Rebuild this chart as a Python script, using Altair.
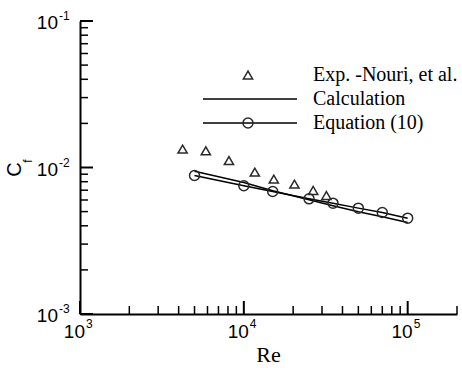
import altair as alt
import pandas as pd

# Experimental data (Nouri et al.)
exp_re = [4230, 5860, 8110, 11670, 15240, 20370, 26500, 31900]
exp_cf = [0.01335, 0.0130, 0.01116, 0.00930, 0.00833, 0.00770, 0.00697, 0.00644]

# Calculation
calc_re = [5000, 10000, 15000, 25000, 35000, 50000, 70000, 100000]
calc_cf = [0.00942, 0.00790, 0.00693, 0.00602, 0.00548, 0.00499, 0.00461, 0.00421]

# Equation (10)
eq_re = [5000, 10000, 15000, 25000, 35000, 50000, 70000, 100000]
eq_cf = [0.00882, 0.00750, 0.00686, 0.00611, 0.00571, 0.00528, 0.00493, 0.00451]

# Ticks
x_major = [1e3, 1e4, 1e5]
x_major_exp = ["3", "4", "5"]
x_minor = [m * d for d in [1e3, 1e4] for m in range(2, 10)] + [2e5]
y_major = [1e-3, 1e-2, 1e-1]
y_major_exp = ["-3", "-2", "-1"]
y_minor = [m * d for d in [1e-3, 1e-2] for m in range(2, 10)]

legend_labels = ["Exp. -Nouri, et al.", "Calculation", "Equation (10)"]

W, H = 377, 293
SANS = "Liberation Sans"
SERIF = "Liberation Serif"
MARK = "#2a2a2a"

xs = alt.Scale(type="log", domain=[1e3, 2e5])
ys = alt.Scale(type="log", domain=[1e-3, 1e-1])

exp_df = pd.DataFrame({"Re": exp_re, "Cf": exp_cf})
calc_df = pd.DataFrame({"Re": calc_re, "Cf": calc_cf})
eq_df = pd.DataFrame({"Re": eq_re, "Cf": eq_cf})

ax_style = dict(labels=False, ticks=False, grid=False, title=None,
                domainColor="black", domainWidth=2)

exp_layer = alt.Chart(exp_df).mark_point(
    shape="triangle-up", filled=False, stroke=MARK, strokeWidth=1.5, size=85, opacity=1
).encode(
    x=alt.X("Re:Q", scale=xs, axis=alt.Axis(**ax_style)),
    y=alt.Y("Cf:Q", scale=ys, axis=alt.Axis(**ax_style)),
)

calc_layer = alt.Chart(calc_df).mark_line(color="black", strokeWidth=1.5).encode(
    x=alt.X("Re:Q", scale=xs), y=alt.Y("Cf:Q", scale=ys)
)
eq_line = alt.Chart(eq_df).mark_line(color="black", strokeWidth=1.5).encode(
    x=alt.X("Re:Q", scale=xs), y=alt.Y("Cf:Q", scale=ys)
)
eq_pts = alt.Chart(eq_df).mark_point(
    shape="circle", filled=False, stroke=MARK, strokeWidth=1.5, size=100, opacity=1
).encode(x=alt.X("Re:Q", scale=xs), y=alt.Y("Cf:Q", scale=ys))

# inward ticks
xmaj = pd.DataFrame({"v": x_major, "e": x_major_exp})
ymaj = pd.DataFrame({"v": y_major, "e": y_major_exp})
xmin = pd.DataFrame({"v": x_minor})
ymin = pd.DataFrame({"v": y_minor})

tick_x_major = alt.Chart(xmaj).mark_rule(color="black", strokeWidth=2).encode(
    x=alt.X("v:Q", scale=xs), y=alt.value(H), y2=alt.value(H - 13))
tick_x_minor = alt.Chart(xmin).mark_rule(color="black", strokeWidth=1.5).encode(
    x=alt.X("v:Q", scale=xs), y=alt.value(H), y2=alt.value(H - 8))
tick_y_major = alt.Chart(ymaj).mark_rule(color="black", strokeWidth=2).encode(
    y=alt.Y("v:Q", scale=ys), x=alt.value(0), x2=alt.value(13))
tick_y_minor = alt.Chart(ymin).mark_rule(color="black", strokeWidth=1.5).encode(
    y=alt.Y("v:Q", scale=ys), x=alt.value(0), x2=alt.value(8))

# tick labels 10^n
xl_base = alt.Chart(xmaj).mark_text(
    text="10", align="right", baseline="alphabetic", font=SANS, fontSize=19, dx=5, color="black"
).encode(x=alt.X("v:Q", scale=xs), y=alt.value(H + 24))
xl_exp = alt.Chart(xmaj).mark_text(
    align="left", baseline="alphabetic", font=SANS, fontSize=12, dx=6, color="black"
).encode(x=alt.X("v:Q", scale=xs), y=alt.value(H + 14), text="e:N")

yl_base = alt.Chart(ymaj).mark_text(
    text="10", align="right", baseline="alphabetic", font=SANS, fontSize=19, dy=8, color="black"
).encode(y=alt.Y("v:Q", scale=ys), x=alt.value(-22))
yl_exp = alt.Chart(ymaj).mark_text(
    align="left", baseline="alphabetic", font=SANS, fontSize=12, dy=-1, color="black"
).encode(y=alt.Y("v:Q", scale=ys), x=alt.value(-21), text="e:N")

one = alt.Data(values=[{}])

title_x = alt.Chart(one).mark_text(
    text="Re", font=SERIF, fontSize=22, align="center", baseline="middle", color="black"
).encode(x=alt.value(188.5), y=alt.value(333.5))
title_y = alt.Chart(one).mark_text(
    text="C", font=SANS, fontSize=20, align="center", baseline="middle", angle=270, color="black"
).encode(x=alt.value(-65.5), y=alt.value(148.5))
title_y_sub = alt.Chart(one).mark_text(
    text="f", font=SANS, fontSize=12, align="center", baseline="middle", angle=270, color="black"
).encode(x=alt.value(-52.5), y=alt.value(140))

# legend
leg_tri = alt.Chart(one).mark_point(
    shape="triangle-up", filled=False, stroke=MARK, strokeWidth=1.5, size=85, opacity=1
).encode(x=alt.value(168), y=alt.value(54))
leg_calc = alt.Chart(one).mark_rule(color="black", strokeWidth=1.5).encode(
    x=alt.value(123), x2=alt.value(217), y=alt.value(78))
leg_eq = alt.Chart(one).mark_rule(color="black", strokeWidth=1.5).encode(
    x=alt.value(123), x2=alt.value(217), y=alt.value(102))
leg_circ = alt.Chart(one).mark_point(
    shape="circle", filled=False, stroke=MARK, strokeWidth=1.5, size=100, opacity=1
).encode(x=alt.value(168), y=alt.value(102))
leg_texts = [
    alt.Chart(one).mark_text(
        text=lab, font=SERIF, fontSize=20, align="left", baseline="middle", color="black"
    ).encode(x=alt.value(233), y=alt.value(yy))
    for lab, yy in zip(legend_labels, [54, 78, 102])
]

chart = alt.layer(
    exp_layer, calc_layer, eq_line, eq_pts,
    tick_x_major, tick_x_minor, tick_y_major, tick_y_minor,
    xl_base, xl_exp, yl_base, yl_exp,
    title_x, title_y, title_y_sub,
    leg_tri, leg_calc, leg_eq, leg_circ, *leg_texts,
).properties(
    width=W, height=H,
    autosize=alt.AutoSizeParams(type="none"),
    padding={"left": 80, "top": 21, "right": 5, "bottom": 54},
    background="white",
).configure_view(stroke=None)

chart.save("out.html", embed_options={"renderer": "svg", "actions": False})
